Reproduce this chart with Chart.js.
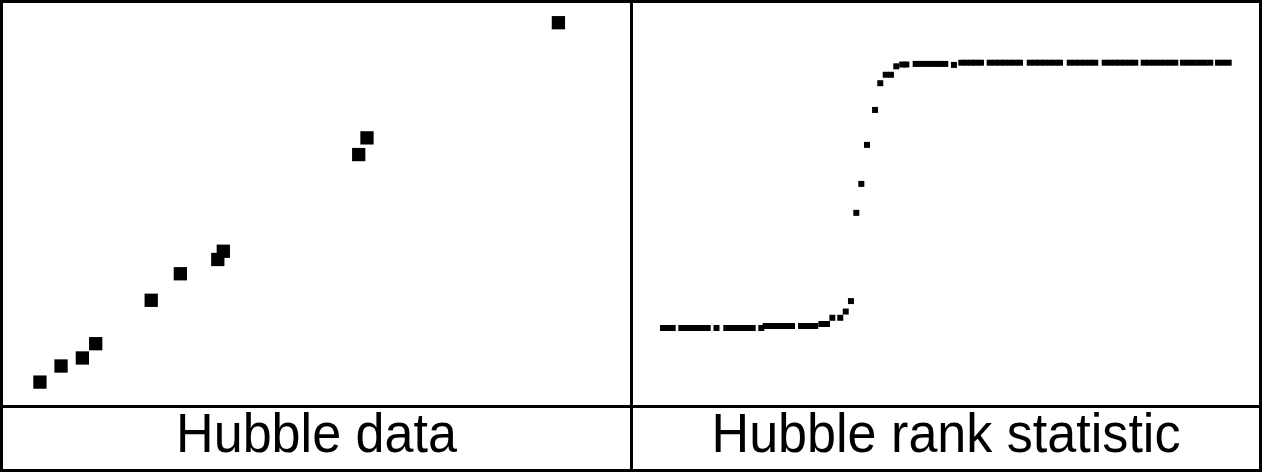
<!DOCTYPE html>
<html>
<head>
<meta charset="utf-8">
<script src="https://cdn.jsdelivr.net/npm/chart.js@4/dist/chart.umd.min.js"></script>
<style>
  html, body { margin: 0; padding: 0; background: #fff; }
  #frame { position: relative; width: 1262px; height: 472px; background: #fff; overflow: hidden; }
  canvas { position: absolute; }
  .rule { position: absolute; background: #000; z-index: 2; }
  .caption {
    position: absolute; z-index: 3; height: 62px; line-height: 62px;
    text-align: center; color: #000; white-space: nowrap;
    font-family: "Liberation Sans", Arial, Helvetica, sans-serif; font-size: 55px;
    transform: scaleX(0.947); transform-origin: 50% 50%;
  }
</style>
</head>
<body>
<div id="frame">
  <canvas id="hubbleData" width="628" height="402" style="left:2px; top:2px;"></canvas>
  <canvas id="hubbleRank" width="628" height="402" style="left:632px; top:2px;"></canvas>

  <div class="rule" style="left:0; top:0; width:1262px; height:3px;"></div>
  <div class="rule" style="left:0; top:469px; width:1262px; height:3px;"></div>
  <div class="rule" style="left:0; top:0; width:3px; height:472px;"></div>
  <div class="rule" style="left:1259px; top:0; width:3px; height:472px;"></div>
  <div class="rule" style="left:630px; top:0; width:3px; height:472px;"></div>
  <div class="rule" style="left:0; top:405px; width:1262px; height:3px;"></div>

  <div class="caption" style="left:3px; top:402px; width:627px;">Hubble data</div>
  <div class="caption" style="left:633px; top:402px; width:626px;">Hubble rank statistic</div>
</div>

<script>
// Galaxy distances (Mpc) and recession velocities (km/s)
const hubbleDistance = [1.51, 2.35, 3.20, 3.73, 5.94, 7.10, 8.59, 8.81, 14.20, 14.53, 22.15];
const hubbleVelocity = [109, 189, 229, 300, 516, 648, 719, 760, 1241, 1324, 1897];

// Rank statistic evaluated over candidate Hubble constants (km/s/Mpc)
const rankH = [
  62.96, 63.42, 63.89, 64.71, 65.22, 65.72, 66.22, 66.73, 67.23, 68.07,
  69.01, 69.52, 70.02, 70.52, 71.03, 71.53, 72.35, 72.77, 73.28, 73.78,
  74.28, 74.78, 75.29, 76.15, 76.60, 77.06, 77.51, 78.09, 78.63,
  79.14, 79.90, 80.42, 80.92, 81.43, 81.91, 82.45, 83.22, 83.72, 84.24,
  84.74, 85.25, 85.82, 86.21,
  87.10, 87.57, 88.05, 88.52, 88.99, 89.46, 89.93, 90.76,
  91.46, 91.93, 92.41, 92.88, 93.34,
  94.17, 94.66, 95.14, 95.62, 96.10, 96.59, 97.07,
  98.00, 98.48, 98.96, 99.44, 99.93, 100.41, 100.89,
  101.82, 102.30, 102.79, 103.29, 103.78, 104.26,
  105.16, 105.65, 106.14, 106.62, 107.11, 107.60, 108.08,
  108.89, 109.39, 109.89, 110.40, 110.90, 111.40, 111.91,
  112.64, 113.17, 113.68, 114.21, 114.72, 115.25,
  115.99, 116.50, 117.01
];
const rankStat = [
  -0.622, -0.622, -0.622, -0.622, -0.622, -0.622, -0.622, -0.622, -0.622, -0.622,
  -0.622, -0.622, -0.622, -0.622, -0.622, -0.622, -0.622, -0.612, -0.612, -0.612,
  -0.612, -0.612, -0.612, -0.612, -0.612, -0.612, -0.612, -0.602, -0.602,
  -0.571, -0.571, -0.540, -0.488, -0.049, 0.095, 0.289, 0.463, 0.596, 0.638,
  0.638, 0.680, 0.689, 0.689,
  0.692, 0.692, 0.692, 0.692, 0.692, 0.692, 0.692, 0.687,
  0.698, 0.698, 0.698, 0.698, 0.698,
  0.698, 0.698, 0.698, 0.698, 0.698, 0.698, 0.698,
  0.698, 0.698, 0.698, 0.698, 0.698, 0.698, 0.698,
  0.698, 0.698, 0.698, 0.698, 0.698, 0.698,
  0.698, 0.698, 0.698, 0.698, 0.698, 0.698, 0.698,
  0.698, 0.698, 0.698, 0.698, 0.698, 0.698, 0.698,
  0.698, 0.698, 0.698, 0.698, 0.698, 0.698,
  0.698, 0.698, 0.698
];

function pairs(xs, ys) {
  return xs.map((x, i) => ({ x: x, y: ys[i] }));
}

function scatterConfig(points, radius, xRange, yRange) {
  return {
    type: 'scatter',
    data: {
      datasets: [{
        data: points,
        pointStyle: 'rect',
        pointRadius: radius,
        pointBackgroundColor: '#000',
        pointBorderWidth: 0,
        showLine: false,
        clip: false
      }]
    },
    options: {
      responsive: false,
      animation: false,
      devicePixelRatio: 1,
      events: [],
      layout: { padding: 0, autoPadding: false },
      plugins: { legend: { display: false }, tooltip: { enabled: false }, title: { display: false } },
      scales: {
        x: { type: 'linear', display: false, min: xRange[0], max: xRange[1] },
        y: { type: 'linear', display: false, min: yRange[0], max: yRange[1] }
      }
    }
  };
}

new Chart(document.getElementById('hubbleData'),
  scatterConfig(pairs(hubbleDistance, hubbleVelocity), 9.4, [0, 25], [0, 2000]));

new Chart(document.getElementById('hubbleRank'),
  scatterConfig(pairs(rankH, rankStat), 4.24, [60, 120], [-1, 1]));
</script>
</body>
</html>
